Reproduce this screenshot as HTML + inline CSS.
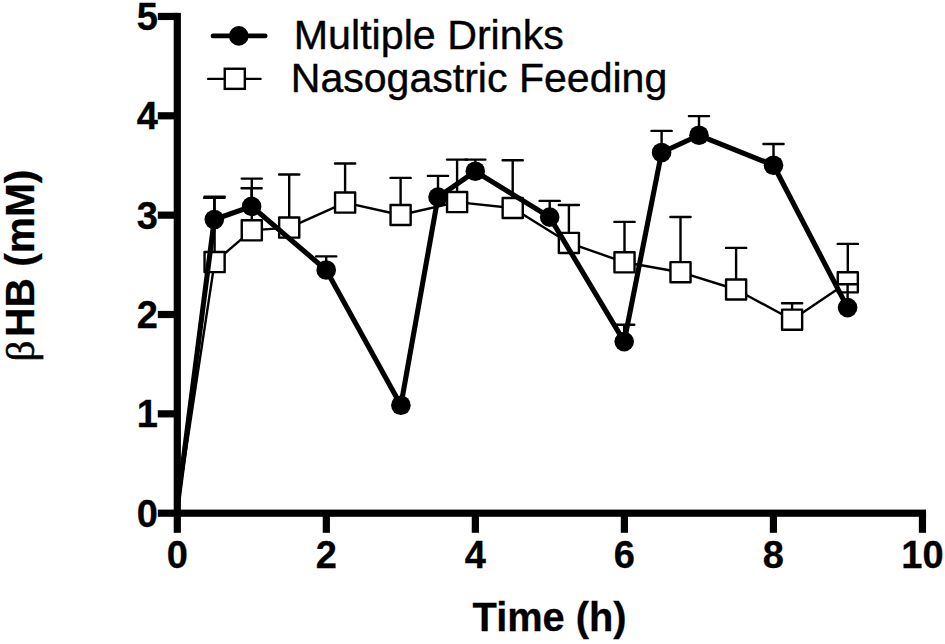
<!DOCTYPE html>
<html><head><meta charset="utf-8"><title>chart</title>
<style>
html,body{margin:0;padding:0;background:#fff;}
body{width:945px;height:644px;overflow:hidden;font-family:"Liberation Sans",sans-serif;}
svg{display:block;}
text{font-family:"Liberation Sans",sans-serif;fill:#000;}
.b{font-weight:bold;font-size:38px;stroke:#000;stroke-width:0.3px;}
.l{font-size:41.2px;stroke:#000;stroke-width:0.4px;}
</style></head><body>
<svg width="945" height="644" viewBox="0 0 945 644">
<rect width="945" height="644" fill="#fff"/>

<g stroke="#000" stroke-width="2.4" fill="none" stroke-linecap="round">
<path d="M214.6 262.1 V196.7 M204.5 196.7 H224.7"/>
<path d="M251.8 230.3 V178.6 M241.7 178.6 H261.9"/>
<path d="M289.2 227.6 V174.5 M279.1 174.5 H299.3"/>
<path d="M345.1 202.6 V163.5 M335 163.5 H355.2"/>
<path d="M400.6 215 V177.9 M390.5 177.9 H410.7"/>
<path d="M457.1 202.1 V159.6 M447 159.6 H467.2"/>
<path d="M512.7 208 V160.2 M502.6 160.2 H522.8"/>
<path d="M568.9 242.9 V205 M558.8 205 H579"/>
<path d="M624.5 262.3 V221.9 M614.4 221.9 H634.6"/>
<path d="M680.5 272.2 V217 M670.4 217 H690.6"/>
<path d="M736.1 289.5 V247.9 M726 247.9 H746.2"/>
<path d="M792.1 319.7 V303.3 M782 303.3 H802.2"/>
<path d="M847.8 282.3 V243.9 M837.7 243.9 H857.9"/>
<polyline points="176.5,513 214.6,262.1 251.8,230.3 289.2,227.6 345.1,202.6 400.6,215 457.1,202.1 512.7,208 568.9,242.9 624.5,262.3 680.5,272.2 736.1,289.5 792.1,319.7 847.8,282.3" stroke-linejoin="round"/>
</g>
<g stroke="#000" stroke-width="2.4" fill="#fff" stroke-linejoin="round">
<rect x="204.55" y="252.05" width="20.1" height="20.1"/>
<rect x="241.75" y="220.25" width="20.1" height="20.1"/>
<rect x="279.15" y="217.55" width="20.1" height="20.1"/>
<rect x="335.05" y="192.55" width="20.1" height="20.1"/>
<rect x="390.55" y="204.95" width="20.1" height="20.1"/>
<rect x="447.05" y="192.05" width="20.1" height="20.1"/>
<rect x="502.65" y="197.95" width="20.1" height="20.1"/>
<rect x="558.85" y="232.85" width="20.1" height="20.1"/>
<rect x="614.45" y="252.25" width="20.1" height="20.1"/>
<rect x="670.45" y="262.15" width="20.1" height="20.1"/>
<rect x="726.05" y="279.45" width="20.1" height="20.1"/>
<rect x="782.05" y="309.65" width="20.1" height="20.1"/>
<rect x="837.75" y="272.25" width="20.1" height="20.1"/>
</g>
<g stroke="#000" stroke-width="2.4" fill="none" stroke-linecap="round">
<path d="M214.3 219.5 V197.9 M204.2 197.9 H224.4"/>
<path d="M251.6 206.4 V188.2 M241.5 188.2 H261.7"/>
<path d="M326.2 270 V256.4 M316.1 256.4 H336.3"/>
<path d="M438 197.1 V175.9 M427.9 175.9 H448.1"/>
<path d="M475.3 171.3 V159.6 M465.2 159.6 H485.4"/>
<path d="M549.7 217.1 V200.9 M539.6 200.9 H559.8"/>
<path d="M624.2 341.6 V324.8 M614.1 324.8 H634.3"/>
<path d="M661.6 152.5 V130.9 M651.5 130.9 H671.7"/>
<path d="M699 135.3 V116.1 M688.9 116.1 H709.1"/>
<path d="M773.5 165.2 V144 M763.4 144 H783.6"/>
<path d="M847.6 307.6 V284.3 M837.5 284.3 H857.7"/>
</g>
<polyline points="176.5,513 214.3,219.5 251.6,206.4 326.2,270 400.9,405.2 438,197.1 475.3,171.3 549.7,217.1 624.2,341.6 661.6,152.5 699,135.3 773.5,165.2 847.6,307.6" stroke="#000" stroke-width="5.1" fill="none" stroke-linejoin="round"/>
<g fill="#000">
<circle cx="214.3" cy="219.5" r="9.8"/>
<circle cx="251.6" cy="206.4" r="9.8"/>
<circle cx="326.2" cy="270" r="9.8"/>
<circle cx="400.9" cy="405.2" r="9.8"/>
<circle cx="438" cy="197.1" r="9.8"/>
<circle cx="475.3" cy="171.3" r="9.8"/>
<circle cx="549.7" cy="217.1" r="9.8"/>
<circle cx="624.2" cy="341.6" r="9.8"/>
<circle cx="661.6" cy="152.5" r="9.8"/>
<circle cx="699" cy="135.3" r="9.8"/>
<circle cx="773.5" cy="165.2" r="9.8"/>
<circle cx="847.6" cy="307.6" r="9.8"/>
</g>
<g fill="#000">
<rect x="173.7" y="12.85" width="7.2" height="519.95"/>
<rect x="157.8" y="509.6" width="768.25" height="7.2"/>
<rect x="157.8" y="410.25" width="19.5" height="7.2"/>
<rect x="157.8" y="310.9" width="19.5" height="7.2"/>
<rect x="157.8" y="211.55" width="19.5" height="7.2"/>
<rect x="157.8" y="112.2" width="19.5" height="7.2"/>
<rect x="157.8" y="12.85" width="19.5" height="7.2"/>
<rect x="322.73" y="513.2" width="7.2" height="19.6"/>
<rect x="471.76" y="513.2" width="7.2" height="19.6"/>
<rect x="620.79" y="513.2" width="7.2" height="19.6"/>
<rect x="769.82" y="513.2" width="7.2" height="19.6"/>
<rect x="918.85" y="513.2" width="7.2" height="19.6"/>
</g>
<text class="b" x="158" y="526.8" text-anchor="end">0</text>
<text class="b" x="158" y="427.45" text-anchor="end">1</text>
<text class="b" x="158" y="328.1" text-anchor="end">2</text>
<text class="b" x="158" y="228.75" text-anchor="end">3</text>
<text class="b" x="158" y="129.4" text-anchor="end">4</text>
<text class="b" x="158" y="30.05" text-anchor="end">5</text>
<text class="b" x="177.3" y="568" text-anchor="middle">0</text>
<text class="b" x="326.33" y="568" text-anchor="middle">2</text>
<text class="b" x="475.36" y="568" text-anchor="middle">4</text>
<text class="b" x="624.39" y="568" text-anchor="middle">6</text>
<text class="b" x="773.42" y="568" text-anchor="middle">8</text>
<text class="b" x="922.45" y="568" text-anchor="middle">10</text>
<text x="549.6" y="630.5" text-anchor="middle" style="font-weight:bold;font-size:39.8px;stroke:#000;stroke-width:0.3px">Time (h)</text>
<g transform="translate(34.3 0) rotate(-90)">
<text x="-361.4" y="0" style="font-family:'Liberation Serif',serif;font-weight:normal;font-size:41px;stroke:#000;stroke-width:0.6px">β</text>
<text x="-336.9" y="0" style="font-weight:bold;font-size:40.7px;stroke:#000;stroke-width:0.3px">HB (mM)</text>
</g>
<path d="M213 35.9 H265.2" stroke="#000" stroke-width="4.7" stroke-linecap="round"/>
<circle cx="238.8" cy="35.9" r="9.8" fill="#000"/>
<path d="M208.2 78.9 H260.5" stroke="#000" stroke-width="2.4" stroke-linecap="round"/>
<rect x="224.75" y="68.75" width="20.1" height="20.1" fill="#fff" stroke="#000" stroke-width="2.4"/>
<text class="l" x="293.8" y="49.2">Multiple Drinks</text>
<text class="l" x="290.8" y="91.9" style="font-size:41.05px">Nasogastric Feeding</text>
</svg></body></html>
